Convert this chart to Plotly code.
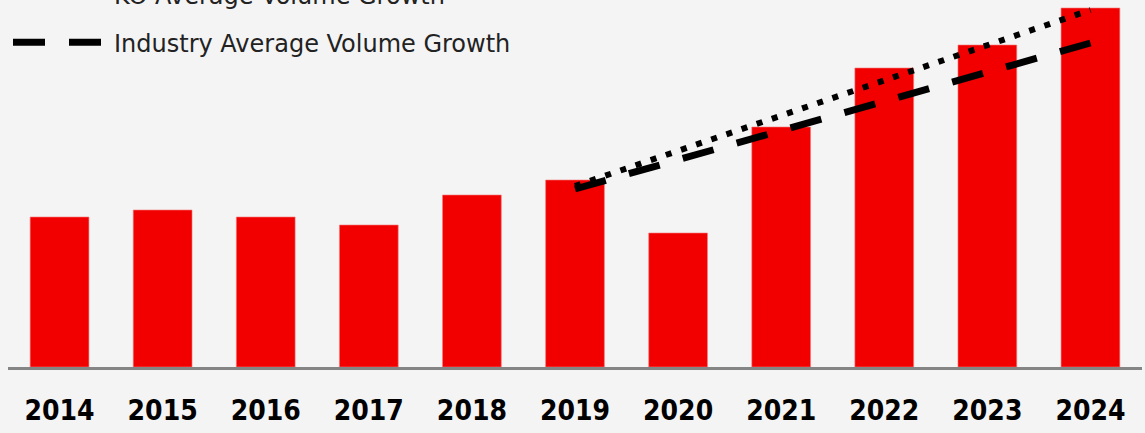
import plotly.graph_objects as go

years = ["2014", "2015", "2016", "2017", "2018", "2019", "2020", "2021", "2022", "2023", "2024"]
volume = [150, 157, 150, 142, 172, 187, 134, 240, 299, 322, 359]

trend_years = ["2019", "2024"]
ko_growth = [181, 357]
industry_growth = [178, 324]

fig = go.Figure()
fig.add_trace(go.Bar(
    x=years, y=volume, marker=dict(color="#f20000", line=dict(color="#f57a7a", width=0.6)),
    width=0.57, showlegend=False,
))
fig.add_trace(go.Scatter(
    x=trend_years, y=ko_growth, mode="lines", name="KO Average Volume Growth",
    line=dict(color="black", width=6, dash="6px,10px"), legendgroup="a",
))
fig.add_trace(go.Scatter(
    x=trend_years, y=industry_growth, mode="lines", name="Industry Average Volume Growth",
    line=dict(color="black", width=7, dash="32px,24px"), legendgroup="b",
))

fig.update_layout(
    width=1145, height=433,
    margin=dict(l=8, r=3, t=0, b=66, autoexpand=False),
    paper_bgcolor="#f4f4f4", plot_bgcolor="#f4f4f4",
    showlegend=True,
    legend=dict(
        x=0.0, xanchor="left", y=1.074, yanchor="top",
        bgcolor="rgba(0,0,0,0)",
        font=dict(family="DejaVu Sans, sans-serif", size=24, color="#222222"),
        traceorder="grouped", tracegroupgap=13, itemwidth=96,
    ),
    xaxis=dict(
        type="category", range=[-0.5, 10.5], showgrid=False, zeroline=False,
        showline=True, linecolor="#858585", linewidth=3,
        ticks="", ticklabelstandoff=16,
        tickfont=dict(family="DejaVu Sans Condensed, Liberation Sans Narrow, Liberation Sans, sans-serif",
                      size=28, color="#000000", weight="bold"),
    ),
    yaxis=dict(range=[0, 367], showgrid=False, zeroline=False, showticklabels=False, showline=False),
)

fig.write_html(
    "out.html",
    config={"displayModeBar": False},
    post_script="document.body.style.margin='0';document.body.style.background='#f4f4f4';",
)
